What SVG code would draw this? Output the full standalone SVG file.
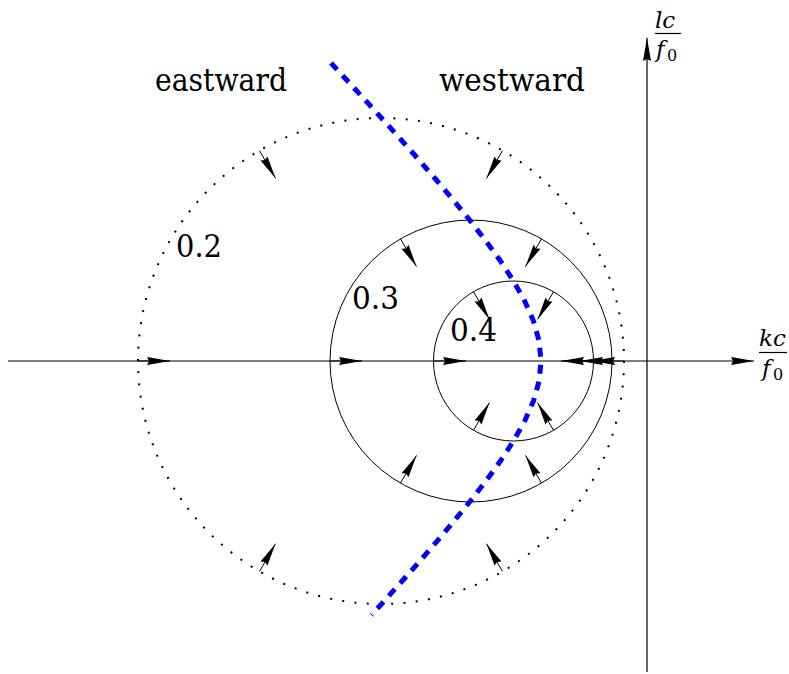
<svg xmlns="http://www.w3.org/2000/svg" width="789" height="674" viewBox="0 0 789 674">
<style>
.ax{stroke:#000;stroke-width:1.2;fill:none}
.c{stroke:#000;stroke-width:1;fill:none}
.dot{stroke:#000;stroke-width:2;fill:none;stroke-dasharray:2 10.31}
.ar{stroke:#000;stroke-width:1;fill:none;marker-end:url(#ah)}
text{font-family:"DejaVu Serif",serif}
.lbl{font-size:32px;fill:#000}
.num{font-size:32px;fill:#000}
.m{font-size:23px;font-style:italic;fill:#000}
.sub{font-size:16px;fill:#000}
.blue{stroke:#0000ff;stroke-width:5;fill:none;stroke-dasharray:9 8}
</style>
<defs>
<marker id="ah" markerUnits="userSpaceOnUse" markerWidth="24" markerHeight="10" refX="23" refY="4" orient="auto" overflow="visible">
<path d="M0,0 L23,4 L0,8 L2,4 Z" fill="#000"/>
</marker>
</defs>
<g id="axes">
<line class="ax" x1="8" y1="361" x2="754" y2="361" marker-end="url(#ah)"/>
<line class="ax" x1="647" y1="672" x2="647" y2="38" marker-end="url(#ah)"/>
</g>
<g id="circle-0.2"><circle class="dot" cx="381" cy="361" r="243"/></g>
<g id="circle-0.3"><circle class="c" cx="471" cy="361" r="141"/></g>
<g id="circle-0.4"><circle class="c" cx="513.5" cy="361" r="80"/></g>
<g id="connectors">
<line class="ar" x1="138" y1="361" x2="170" y2="361"/>
<line class="ar" x1="624" y1="361" x2="592" y2="361"/>
<line class="ar" x1="259.5" y1="150.6" x2="275.5" y2="178.3"/>
<line class="ar" x1="502.5" y1="150.6" x2="486.5" y2="178.3"/>
<line class="ar" x1="259.5" y1="571.4" x2="275.5" y2="543.7"/>
<line class="ar" x1="502.5" y1="571.4" x2="486.5" y2="543.7"/>
<line class="ar" x1="330" y1="361" x2="362" y2="361"/>
<line class="ar" x1="612" y1="361" x2="580" y2="361"/>
<line class="ar" x1="400.5" y1="238.9" x2="416.5" y2="266.6"/>
<line class="ar" x1="541.5" y1="238.9" x2="525.5" y2="266.6"/>
<line class="ar" x1="400.5" y1="483.1" x2="416.5" y2="455.4"/>
<line class="ar" x1="541.5" y1="483.1" x2="525.5" y2="455.4"/>
<line class="ar" x1="434" y1="361" x2="466" y2="361"/>
<line class="ar" x1="593" y1="361" x2="561" y2="361"/>
<line class="ar" x1="473.5" y1="291.7" x2="489.5" y2="319.4"/>
<line class="ar" x1="553.5" y1="291.7" x2="537.5" y2="319.4"/>
<line class="ar" x1="473.5" y1="430.3" x2="489.5" y2="402.6"/>
<line class="ar" x1="553.5" y1="430.3" x2="537.5" y2="402.6"/>
</g>
<g id="curve">
<polyline class="blue" points="331,63 347.6,81 366,101 384.2,121 402.2,141 419.9,161 437.2,181 454.1,201 470.4,221 485.9,241 500.4,261 513.5,281 524.7,301 533.5,321 539.1,341 541,361 539.1,381 533.5,401 524.7,421 513.5,441 500.4,461 485.9,481 470.4,501 454.1,521 437.2,541 419.9,561 402.2,581 384.2,601 371.5,615"/>
</g>
<g id="labels">
<text class="lbl" x="155" y="91" textLength="132" lengthAdjust="spacingAndGlyphs">eastward</text>
<text class="lbl" x="439" y="91" textLength="146" lengthAdjust="spacingAndGlyphs">westward</text>
<text class="num" x="176" y="257" textLength="46" lengthAdjust="spacingAndGlyphs">0.2</text>
<text class="num" x="352" y="309" textLength="47" lengthAdjust="spacingAndGlyphs">0.3</text>
<text class="num" x="450" y="341" textLength="47" lengthAdjust="spacingAndGlyphs">0.4</text>
</g>
<g id="ylabel">
<text class="m" x="655" y="28">lc</text>
<line x1="655" y1="33.5" x2="681" y2="33.5" stroke="#000" stroke-width="1.2"/>
<text class="m" x="656" y="57">f</text>
<text class="sub" x="667" y="61">0</text>
</g>
<g id="xlabel">
<text class="m" x="759" y="346">kc</text>
<line x1="759" y1="352.5" x2="787" y2="352.5" stroke="#000" stroke-width="1.2"/>
<text class="m" x="762" y="376">f</text>
<text class="sub" x="773" y="380">0</text>
</g>
</svg>
